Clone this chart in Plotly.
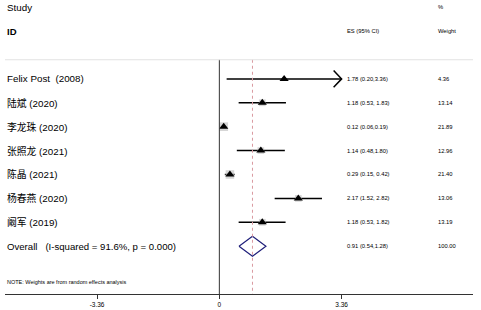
import plotly.graph_objects as go

studies = ["Felix Post  (2008)", "陆斌 (2020)", "李龙珠 (2020)", "张照龙 (2021)",
           "陈晶 (2021)", "杨春燕 (2020)", "阚军 (2019)"]
es = [1.78, 1.18, 0.12, 1.14, 0.29, 2.17, 1.18]
lo = [0.20, 0.53, 0.06, 0.48, 0.15, 1.52, 0.53]
hi = [3.36, 1.83, 0.19, 1.80, 0.42, 2.82, 1.82]
es_text = ["1.78 (0.20,3.36)", "1.18 (0.53, 1.83)", "0.12 (0.06,0.19)", "1.14 (0.48,1.80)",
           "0.29 (0.15, 0.42)", "2.17 (1.52, 2.82)", "1.18 (0.53, 1.82)"]
weights = [4.36, 13.14, 21.89, 12.96, 21.40, 13.06, 13.19]
overall_label = "Overall   (I-squared = 91.6%, p = 0.000)"
overall_es, overall_lo, overall_hi = 0.91, 0.54, 1.28
overall_text = "0.91 (0.54,1.28)"
overall_weight = "100.00"
tick_vals = [-3.36, 0, 3.36]
tick_text = ["-3.36", "0", "3.36"]
clip = 3.36
x_range = [-5.89, 6.97]

FONT = "Liberation Sans, Arial, Noto Sans CJK SC, sans-serif"
rows = list(range(len(studies)))
overall_row = len(studies)
text_x = 3.46
weight_x = 5.95

fig = go.Figure()

# CI lines
for r, a, b in zip(rows, lo, hi):
    fig.add_trace(go.Scatter(x=[a, min(b, clip)], y=[r, r], mode="lines",
                             line=dict(color="black", width=1.5), hoverinfo="skip", showlegend=False))
    if b >= clip:
        d = 0.22
        fig.add_trace(go.Scatter(x=[clip - d, clip, clip - d], y=[r - 0.35, r, r + 0.35], mode="lines",
                                 line=dict(color="black", width=1.5), hoverinfo="skip", showlegend=False))

# weight boxes
fig.add_trace(go.Scatter(x=es, y=rows, mode="markers",
                         marker=dict(symbol="square", color="#c4c4c4",
                                     size=[1.85 * w ** 0.5 for w in weights], line=dict(width=0)),
                         hoverinfo="skip", showlegend=False))
# point estimates
fig.add_trace(go.Scatter(x=es, y=rows, mode="markers",
                         marker=dict(symbol="triangle-up", color="black", size=8),
                         hoverinfo="skip", showlegend=False))

# overall diamond
fig.add_trace(go.Scatter(x=[overall_lo, overall_es, overall_hi, overall_es, overall_lo],
                         y=[overall_row, overall_row - 0.42, overall_row, overall_row + 0.42, overall_row],
                         mode="lines", line=dict(color="#1f1f7a", width=1.2),
                         hoverinfo="skip", showlegend=False))

# reference lines
fig.add_shape(type="line", x0=0, x1=0, y0=-0.8, y1=9.0, line=dict(color="#333333", width=1))
fig.add_shape(type="line", x0=overall_es, x1=overall_es, y0=-0.8, y1=9.05,
              line=dict(color="#d99aa0", width=1, dash="dot"))
fig.add_shape(type="line", xref="paper", x0=0, x1=1, y0=-0.8, y1=-0.8,
              line=dict(color="#e2e2e2", width=1))

# text
def txt(x, y, s, size, bold=False, xref="x"):
    fig.add_annotation(x=x, y=y, xref=xref, text=("<b>%s</b>" % s) if bold else s, showarrow=False,
                       xanchor="left", yanchor="middle", font=dict(family=FONT, size=size, color="black"))

txt(0, -3, "Study", 9.8, xref="paper")
txt(0, -2, "ID", 9.5, bold=True, xref="paper")
txt(text_x, -2, "ES (95% CI)", 5.8)
txt(weight_x, -3, "%", 5.8)
txt(weight_x, -2, "Weight", 5.8)
for r, s, e, w in zip(rows, studies, es_text, weights):
    txt(0, r, s, 9.8, xref="paper")
    txt(text_x, r, e, 5.8)
    txt(weight_x, r, "%.2f" % w, 5.8)
txt(0, overall_row, overall_label, 9.6, xref="paper")
txt(text_x, overall_row, overall_text, 5.8)
txt(weight_x, overall_row, overall_weight, 5.8)
txt(0, 8.5, "NOTE: Weights are from random effects analysis", 5.5, xref="paper")

fig.update_layout(
    width=481, height=310, margin=dict(l=5, r=8, t=0, b=16, autoexpand=False),
    paper_bgcolor="white", plot_bgcolor="white",
    xaxis=dict(range=x_range, tickvals=tick_vals, ticktext=tick_text, showgrid=False, zeroline=False,
               showline=True, linecolor="#333333", linewidth=1, ticks="outside", ticklen=4,
               tickcolor="#333333", tickfont=dict(family=FONT, size=6.5, color="black"),
               fixedrange=True, automargin=False),
    yaxis=dict(range=[9.0, -3.3], visible=False, fixedrange=True),
    showlegend=False,
)

fig.write_html("out.html", config={"displayModeBar": False},
               post_script="document.body.style.margin='0';document.body.style.padding='0';")
